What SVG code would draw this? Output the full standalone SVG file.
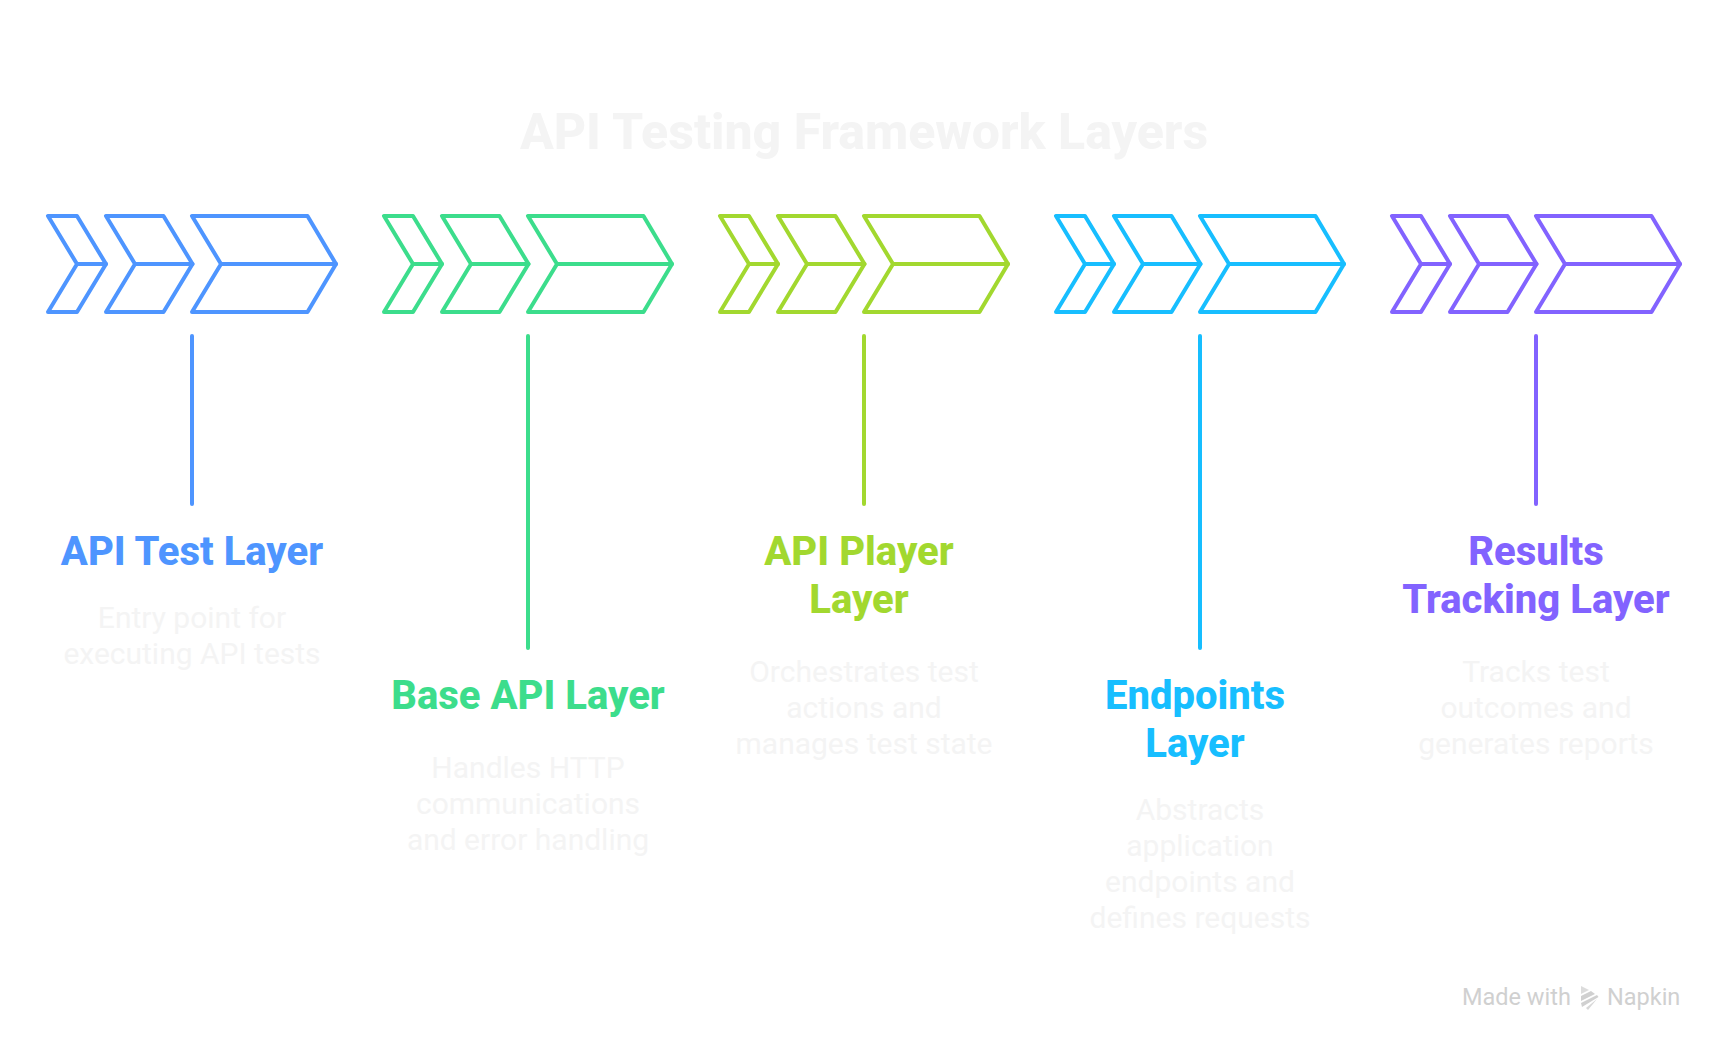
<svg xmlns="http://www.w3.org/2000/svg" width="1728" height="1052" viewBox="0 0 1728 1052">
<style>
text{font-family:Roboto,"Liberation Sans",sans-serif;text-anchor:middle}
.title{font-size:50px;font-weight:800;fill:#f4f4f4}
.h{font-size:40px;font-weight:800}
.d{font-size:30px;font-weight:400;fill:#f4f4f4}
.c{fill:none;stroke-width:4;stroke-linejoin:round;stroke-linecap:round}
.b{stroke:#4e95ff}.bf{fill:#4e95ff}
.g{stroke:#3cdd8c}.gf{fill:#3cdd8c}
.l{stroke:#a2d82f}.lf{fill:#a2d82f}
.y{stroke:#17beff}.yf{fill:#17beff}
.p{stroke:#8263ff}.pf{fill:#8263ff}
.m{font-size:23.500px;fill:#d0d0d0;text-anchor:start}
</style>
<defs>
<g id="chev">
<path d="M48 216H77L106 264L77 312H48L77 264Z"/>
<path d="M77 264H106"/>
<path d="M106 216H163.500L192.500 264L163.500 312H106L135 264Z"/>
<path d="M135 264H192.500"/>
<path d="M192 216H307.500L336 264L307.500 312H192L221 264Z"/>
<path d="M221 264H336"/>
</g>
</defs>
<text class="title" x="864" y="149">API Testing Framework Layers</text>
<g id="connectors">
<path class="c b" d="M192 336V504"/>
<path class="c g" d="M528 336V648"/>
<path class="c l" d="M864 336V504"/>
<path class="c y" d="M1200 336V648"/>
<path class="c p" d="M1536 336V504"/>
</g>
<g id="node-api-test">
<use href="#chev" class="c b"/>
<text class="h bf" x="192" y="565">API Test Layer</text>
<text class="d" x="192" y="628">Entry point for</text>
<text class="d" x="192" y="664">executing API tests</text>
</g>
<g id="node-base-api">
<use href="#chev" x="336" class="c g"/>
<text class="h gf" x="528" y="709">Base API Layer</text>
<text class="d" x="528" y="778">Handles HTTP</text>
<text class="d" x="528" y="814">communications</text>
<text class="d" x="528" y="850">and error handling</text>
</g>
<g id="node-api-player">
<use href="#chev" x="672" class="c l"/>
<text class="h lf" x="859" y="565">API Player</text>
<text class="h lf" x="859" y="613">Layer</text>
<text class="d" x="864" y="682">Orchestrates test</text>
<text class="d" x="864" y="718">actions and</text>
<text class="d" x="864" y="754">manages test state</text>
</g>
<g id="node-endpoints">
<use href="#chev" x="1008" class="c y"/>
<text class="h yf" x="1195" y="709">Endpoints</text>
<text class="h yf" x="1195" y="757">Layer</text>
<text class="d" x="1200" y="820">Abstracts</text>
<text class="d" x="1200" y="856">application</text>
<text class="d" x="1200" y="892">endpoints and</text>
<text class="d" x="1200" y="928">defines requests</text>
</g>
<g id="node-results">
<use href="#chev" x="1344" class="c p"/>
<text class="h pf" x="1536" y="565">Results</text>
<text class="h pf" x="1536" y="613">Tracking Layer</text>
<text class="d" x="1536" y="682">Tracks test</text>
<text class="d" x="1536" y="718">outcomes and</text>
<text class="d" x="1536" y="754">generates reports</text>
</g>
<g id="watermark">
<text class="m" x="1462" y="1005">Made with</text>
<path fill="#dcdcdc" d="M1581 986L1589 990L1581 994Z"/>
<path fill="#d0d0d0" d="M1581 996L1591 991L1595 994L1581 1001Z"/>
<path fill="#d0d0d0" d="M1581 1003L1597 995L1598.500 997L1582 1007Z"/>
<path fill="#d8d8d8" d="M1586 1008L1597 999L1588 1010Z"/>
<text class="m" x="1607" y="1005">Napkin</text>
</g>
</svg>
